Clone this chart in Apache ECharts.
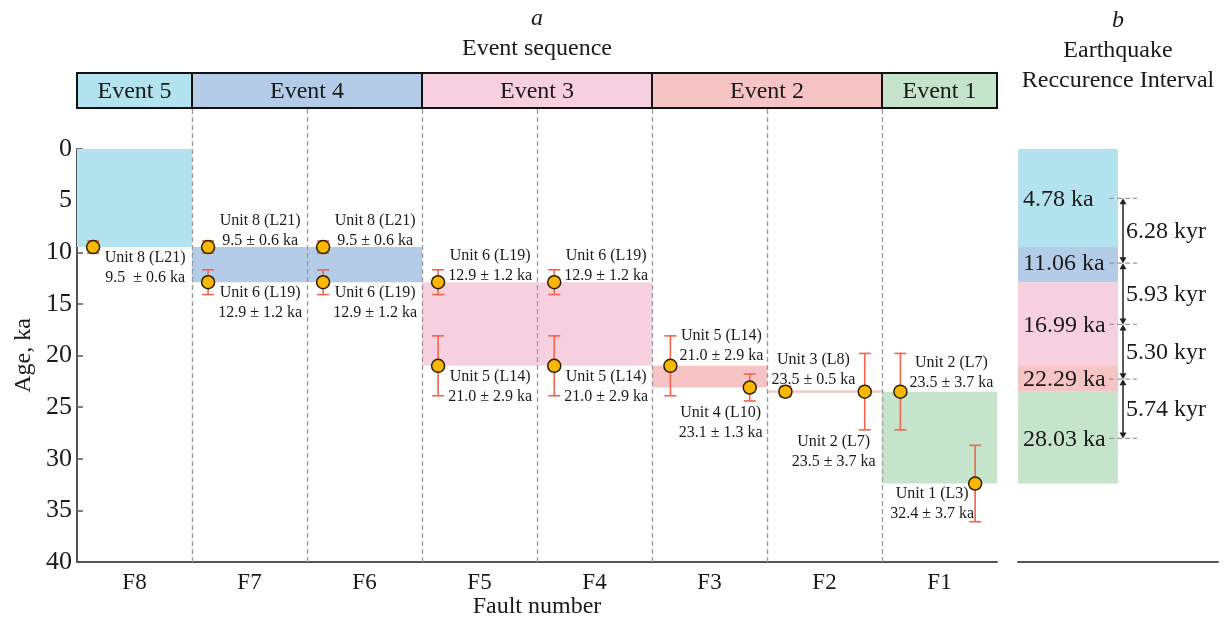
<!DOCTYPE html>
<html><head><meta charset="utf-8">
<script src="https://cdn.jsdelivr.net/npm/echarts@6/dist/echarts.min.js"></script>
<style>html,body{margin:0;padding:0;background:#fff}#c{width:1227px;height:618px}</style>
</head><body><div id="c"></div>
<script>
// ---------------- DATA ----------------
const faults = ['F8','F7','F6','F5','F4','F3','F2','F1'];
const events = ['Event 5','Event 4','Event 3','Event 2','Event 1'];
const eventStart = [0,1,3,5,7];
const eventEnd   = [1,3,5,7,8];

// sample points (x = column position along fault axis, 0..8)
const sampleX   = [0.14, 1.14, 1.14, 2.14, 2.14, 3.14, 3.14, 4.15, 4.15, 5.16, 5.85, 6.16, 6.85, 7.16, 7.81];
const sampleAge = [9.5, 9.5, 12.9, 9.5, 12.9, 12.9, 21.0, 12.9, 21.0, 21.0, 23.1, 23.5, 23.5, 23.5, 32.4];
const sampleErr = [0.6, 0.6, 1.2, 0.6, 1.2, 1.2, 2.9, 1.2, 2.9, 2.9, 1.3, 0.5, 3.7, 3.7, 3.7];
const sampleUnit = ['Unit 8 (L21)','Unit 8 (L21)','Unit 6 (L19)','Unit 8 (L21)','Unit 6 (L19)',
  'Unit 6 (L19)','Unit 5 (L14)','Unit 6 (L19)','Unit 5 (L14)','Unit 5 (L14)','Unit 4 (L10)',
  'Unit 3 (L8)','Unit 2 (L7)','Unit 2 (L7)','Unit 1 (L3)'];
const sampleAgeText = ['9.5  ± 0.6 ka','9.5 ± 0.6 ka','12.9 ± 1.2 ka','9.5 ± 0.6 ka','12.9 ± 1.2 ka',
  '12.9 ± 1.2 ka','21.0 ± 2.9 ka','12.9 ± 1.2 ka','21.0 ± 2.9 ka','21.0 ± 2.9 ka','23.1 ± 1.3 ka',
  '23.5 ± 0.5 ka','23.5 ± 3.7 ka','23.5 ± 3.7 ka','32.4 ± 3.7 ka'];

// event age bands in panel a
const bandX0     = [0, 1, 3, 5, 6, 7];
const bandX1     = [1, 3, 5, 6, 7, 8];
const bandTop    = [0, 9.5, 12.9, 21.0, 23.4, 23.5];
const bandBottom = [9.5, 12.9, 21.0, 23.1, 23.6, 32.4];
const bandEvent  = [0, 1, 2, 3, 3, 4];

// panel b
const colBounds = [0, 9.5, 12.9, 21.0, 23.5, 32.4];
const recAges = [4.78, 11.06, 16.99, 22.29, 28.03];
const recAgeText = ['4.78 ka','11.06 ka','16.99 ka','22.29 ka','28.03 ka'];
const recIntervalText = ['6.28 kyr','5.93 kyr','5.30 kyr','5.74 kyr'];

// ---------------- STYLE ----------------
const FONT = '"Liberation Serif","Times New Roman",serif';
const eventColors = ['#b4e3f0','#b4cce8','#f7d0e0','#f7c4c6','#c5e4cb'];
const ERR = '#f0654c';
const TXT = '#1a1a1a';
const AX = '#555';
// label offsets [dx (center), dy (top)] relative to point, px
const labelOffsets = [[52,1],[52,-36],[52,1],[52,-36],[52,1],[52,-36],[52,1],[52,-36],[52,1],
  [51,-40],[-29,15],[28,-42],[-31,40],[51,-39],[-43,0]];

const chart = echarts.init(document.getElementById('c'), null, {renderer:'canvas'});

const option = {
  animation:false,
  backgroundColor:'#fff',
  grid:[
    {left:77, right:230, top:149, bottom:56, outerBoundsMode:'none', containLabel:false},
    {left:1018, right:9, top:149, bottom:56, outerBoundsMode:'none', containLabel:false}
  ],
  xAxis:[
    {gridIndex:0, type:'value', min:0, max:8, interval:0.5,
     axisLine:{show:true, onZero:false, lineStyle:{color:AX, width:2}},
     axisTick:{show:false}, splitLine:{show:false},
     axisLabel:{color:TXT, fontFamily:FONT, fontSize:23, margin:9, showMinLabel:true, showMaxLabel:true,
       formatter:v => (Math.abs(v % 1 - 0.5) < 1e-6) ? faults[Math.floor(v)] : ''},
     name:'Fault number', nameLocation:'middle', nameGap:33, nameMoveOverlap:false,
     nameTextStyle:{color:TXT, fontFamily:FONT, fontSize:24}},
    {gridIndex:1, type:'value', min:0, max:2,
     axisLine:{show:true, onZero:false, lineStyle:{color:AX, width:2}},
     axisTick:{show:false}, splitLine:{show:false}, axisLabel:{show:false}}
  ],
  yAxis:[
    {gridIndex:0, type:'value', inverse:true, min:0, max:40, interval:5,
     axisLine:{show:true, onZero:false, lineStyle:{color:AX, width:2}},
     axisTick:{show:true, inside:true, length:6, lineStyle:{color:AX, width:1.5}},
     splitLine:{show:false},
     axisLabel:{color:TXT, fontFamily:FONT, fontSize:26, margin:5},
     name:'Age, ka', nameLocation:'middle', nameGap:41, nameMoveOverlap:false,
     nameTextStyle:{color:TXT, fontFamily:FONT, fontSize:24}},
    {gridIndex:1, type:'value', inverse:true, min:0, max:40, show:false}
  ],
  graphic:[
    {type:'text', x:537, y:19, style:{text:'a', font:'italic 24px '+FONT, fill:TXT, align:'center', verticalAlign:'middle'}},
    {type:'text', x:537, y:49, style:{text:'Event sequence', font:'24px '+FONT, fill:TXT, align:'center', verticalAlign:'middle'}},
    {type:'text', x:1118, y:21, style:{text:'b', font:'italic 24px '+FONT, fill:TXT, align:'center', verticalAlign:'middle'}},
    {type:'text', x:1118, y:51, style:{text:'Earthquake', font:'24px '+FONT, fill:TXT, align:'center', verticalAlign:'middle'}},
    {type:'text', x:1118, y:81, style:{text:'Reccurence Interval', font:'24px '+FONT, fill:TXT, align:'center', verticalAlign:'middle'}}
  ],
  series:[
    // bands panel a
    {type:'custom', xAxisIndex:0, yAxisIndex:0, z:1, silent:true, clip:false,
     data: bandX0.map((x,i)=>[x, bandTop[i], bandX1[i], bandBottom[i]]),
     renderItem(params, api){
       const p0 = api.coord([api.value(0), api.value(1)]);
       const p1 = api.coord([api.value(2), api.value(3)]);
       return {type:'rect', shape:{x:p0[0], y:p0[1], width:p1[0]-p0[0], height:p1[1]-p0[1]},
         style:{fill:eventColors[bandEvent[params.dataIndex]]}};
     }},
    // header boxes
    {type:'custom', xAxisIndex:0, yAxisIndex:0, z:5, silent:true, clip:false,
     data: eventStart.map((s,i)=>[s, eventEnd[i]]),
     renderItem(params, api){
       const cs = params.coordSys;
       const x0 = api.coord([api.value(0), 0])[0];
       const x1 = api.coord([api.value(1), 0])[0];
       const y0 = cs.y - 76, y1 = cs.y - 41;
       return {type:'group', children:[
         {type:'rect', shape:{x:x0, y:y0, width:x1-x0, height:y1-y0},
          style:{fill:eventColors[params.dataIndex], stroke:'#111', lineWidth:2}},
         {type:'text', x:(x0+x1)/2, y:(y0+y1)/2+1,
          style:{text:events[params.dataIndex], font:'24px '+FONT, fill:TXT, align:'center', verticalAlign:'middle'}}
       ]};
     }},
    // dashed separators
    {type:'custom', xAxisIndex:0, yAxisIndex:0, z:3, silent:true, clip:false,
     data:[1,2,3,4,5,6,7].map(v=>[v,0]),
     renderItem(params, api){
       const cs = params.coordSys;
       const x = Math.round(api.coord([api.value(0), 0])[0]) + 0.5;
       return {type:'line', shape:{x1:x, y1:cs.y-40, x2:x, y2:cs.y+cs.height},
         style:{stroke:'#9a9a9a', lineWidth:1.3, lineDash:[5,3]}};
     }},
    // error bars
    {type:'custom', xAxisIndex:0, yAxisIndex:0, z:6, silent:true,
     data: sampleX.map((x,i)=>[x, sampleAge[i], sampleErr[i]]),
     renderItem(params, api){
       const x = api.value(0), y = api.value(1), e = api.value(2);
       const t = api.coord([x, y-e]), b = api.coord([x, y+e]);
       const hw = 6, st = {stroke:ERR, lineWidth:1.6};
       return {type:'group', children:[
         {type:'line', shape:{x1:t[0], y1:t[1], x2:b[0], y2:b[1]}, style:st},
         {type:'line', shape:{x1:t[0]-hw, y1:t[1], x2:t[0]+hw, y2:t[1]}, style:st},
         {type:'line', shape:{x1:b[0]-hw, y1:b[1], x2:b[0]+hw, y2:b[1]}, style:st}
       ]};
     }},
    // points
    {type:'scatter', xAxisIndex:0, yAxisIndex:0, z:8, silent:true,
     data: sampleX.map((x,i)=>[x, sampleAge[i]]),
     symbol:'circle', symbolSize:13,
     itemStyle:{color:'#fbb700', borderColor:'#2a2000', borderWidth:1.5, opacity:1}},
    // point labels
    {type:'custom', xAxisIndex:0, yAxisIndex:0, z:9, silent:true, clip:false,
     data: sampleX.map((x,i)=>[x, sampleAge[i]]),
     renderItem(params, api){
       const i = params.dataIndex;
       const p = api.coord([api.value(0), api.value(1)]);
       const o = labelOffsets[i];
       return {type:'text', x:p[0]+o[0], y:p[1]+o[1],
         style:{text:sampleUnit[i]+'\n'+sampleAgeText[i], font:'16px '+FONT, fill:TXT,
           align:'center', verticalAlign:'top', lineHeight:20}};
     }},
    // panel b: column
    {type:'custom', xAxisIndex:1, yAxisIndex:1, z:1, silent:true,
     data: colBounds.slice(0,-1).map((b,i)=>[0, b, 1, colBounds[i+1]]),
     renderItem(params, api){
       const p0 = api.coord([api.value(0), api.value(1)]);
       const p1 = api.coord([api.value(2), api.value(3)]);
       return {type:'rect', shape:{x:p0[0], y:p0[1], width:p1[0]-p0[0], height:p1[1]-p0[1]},
         style:{fill:eventColors[params.dataIndex]}};
     }},
    // panel b: age labels and dashed markers
    {type:'custom', xAxisIndex:1, yAxisIndex:1, z:4, silent:true, clip:false,
     data: recAges.map(a=>[0.05, a]),
     renderItem(params, api){
       const i = params.dataIndex;
       const p = api.coord([api.value(0), api.value(1)]);
       const d0 = api.coord([0.91, api.value(1)]), d1 = api.coord([1.19, api.value(1)]);
       return {type:'group', children:[
         {type:'line', shape:{x1:d0[0], y1:d0[1], x2:d1[0], y2:d1[1]},
          style:{stroke:'#9a9a9a', lineWidth:1.3, lineDash:[5,3]}},
         {type:'text', x:p[0], y:p[1]+1,
          style:{text:recAgeText[i], font:'24px '+FONT, fill:TXT, align:'left', verticalAlign:'middle'}}
       ]};
     }},
    // panel b: interval arrows
    {type:'custom', xAxisIndex:1, yAxisIndex:1, z:5, silent:true, clip:false,
     data: recAges.slice(0,-1).map((a,i)=>[1.05, a, recAges[i+1]]),
     renderItem(params, api){
       const i = params.dataIndex;
       const t = api.coord([api.value(0), api.value(1)]);
       const b = api.coord([api.value(0), api.value(2)]);
       const m = api.coord([1.08, (api.value(1)+api.value(2))/2]);
       const aw = 3.5, ah = 6;
       return {type:'group', children:[
         {type:'line', shape:{x1:t[0], y1:t[1]+2, x2:b[0], y2:b[1]-2}, style:{stroke:'#222', lineWidth:1.5}},
         {type:'polygon', shape:{points:[[t[0],t[1]],[t[0]-aw,t[1]+ah],[t[0]+aw,t[1]+ah]]}, style:{fill:'#222'}},
         {type:'polygon', shape:{points:[[b[0],b[1]],[b[0]-aw,b[1]-ah],[b[0]+aw,b[1]-ah]]}, style:{fill:'#222'}},
         {type:'text', x:m[0], y:m[1]+1,
          style:{text:recIntervalText[i], font:'24px '+FONT, fill:TXT, align:'left', verticalAlign:'middle'}}
       ]};
     }}
  ]
};
chart.setOption(option);
</script>
</body></html>
